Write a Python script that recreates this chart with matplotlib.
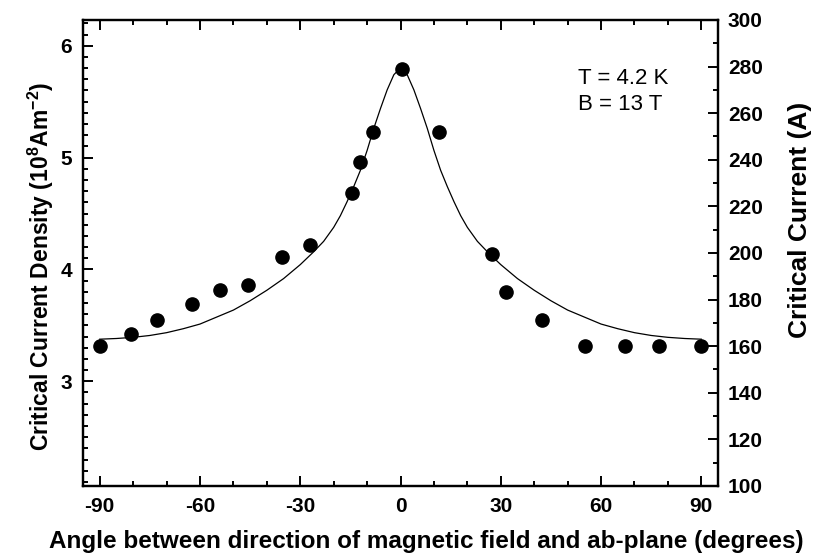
import matplotlib
matplotlib.use("Agg")
import matplotlib.pyplot as plt
from matplotlib.ticker import MultipleLocator

plt.rcParams["font.family"] = ["Liberation Sans", "DejaVu Sans"]
plt.rcParams["font.weight"] = "bold"
plt.rcParams["axes.unicode_minus"] = False
plt.rcParams["mathtext.fontset"] = "custom"
plt.rcParams["mathtext.rm"] = "Liberation Sans:bold"
plt.rcParams["mathtext.bf"] = "Liberation Sans:bold"
plt.rcParams["mathtext.default"] = "bf"

# measured points: angle (deg) vs critical current (A)
angle = [-90, -80.5, -73, -62.5, -54, -45.6, -35.6, -27.2, -14.5, -12.2, -8.1,
         0.4, 11.4, 27.5, 31.6, 42.4, 55.1, 67.2, 77.3, 90]
current = [160.1, 165.1, 171.2, 178.1, 184.1, 186.1, 198.2, 203.4, 225.9, 238.9,
           251.8, 279.0, 251.8, 199.4, 183.1, 171.1, 160.1, 160.1, 160.1, 160.1]

# fitted curve
fit_angle = [-90, -85, -80, -75, -70, -65, -60, -55, -50, -45, -40, -35, -30,
             -26, -23, -20, -18, -16, -14, -12, -10, -8, -6, -4, -2, 0,
             2, 4, 6, 8, 10, 12, 14, 16, 18, 20, 23, 26, 30, 35, 40, 45, 50,
             55, 60, 65, 70, 75, 80, 85, 90]
fit_current = [163.0, 163.3, 163.8, 164.6, 165.8, 167.5, 169.5, 172.5, 175.5,
               179.5, 184.0, 189.0, 195.0, 200.5, 205.0, 211.0, 216.0, 222.0,
               228.5, 235.5, 244.0, 253.5, 262.0, 270.0, 276.5, 279.5,
               276.5, 270.0, 262.0, 253.5, 244.0, 235.5, 228.5, 222.0, 216.0,
               211.0, 205.0, 200.5, 195.0, 189.0, 184.0, 179.5, 175.5, 172.5,
               169.5, 167.5, 165.8, 164.6, 163.8, 163.3, 163.0]

x_ticks = [-90, -60, -30, 0, 30, 60, 90]
jc_ticks = [3, 4, 5, 6]

fig = plt.figure(figsize=(8.13, 5.57), dpi=100)
ax = fig.add_axes([0.1021, 0.1275, 0.7811, 0.8366])
ax2 = ax.twinx()

ax2.plot(fit_angle, fit_current, color="black", lw=0.9)
ax2.plot(angle, current, "o", color="black", ms=9.5)

ax.set_xlim(-95, 95)
ax.set_ylim(2.064, 6.23)
ax2.set_ylim(100, 300)

ax.set_xticks(x_ticks)
ax.xaxis.set_minor_locator(MultipleLocator(10))
ax.set_yticks(jc_ticks)
ax.yaxis.set_minor_locator(MultipleLocator(0.1))
ax2.yaxis.set_major_locator(MultipleLocator(20))
ax2.yaxis.set_minor_locator(MultipleLocator(10))

for a in (ax, ax2):
    for s in a.spines.values():
        s.set_linewidth(1.6)
ax.tick_params(which="both", direction="in", top=True, right=False, width=1.4,
               labelsize=15, pad=8)
ax.tick_params(which="major", length=7)
ax.tick_params(which="minor", length=3.5)
ax2.tick_params(which="both", direction="in", width=1.4, labelsize=15, pad=7)
ax2.tick_params(which="major", length=7)
ax2.tick_params(which="minor", length=3.5)

ax.set_xlabel("Angle between direction of magnetic field and ab-plane (degrees)",
              fontsize=17.5, fontweight="bold")
ax.xaxis.set_label_coords(0.541, -0.094)
ax.set_ylabel("Critical Current Density (10$^{8}$Am$^{-2}$)",
              fontsize=16.5, fontweight="bold")
ax.yaxis.set_label_coords(-0.0425, 0.472)
ax2.set_ylabel("Critical Current (A)", fontsize=19, fontweight="bold")
ax2.yaxis.set_label_coords(1.110, 0.571)

ax.text(0.7795, 0.8755, "T = 4.2 K", transform=ax.transAxes,
        fontsize=16, fontweight="normal", va="center", ha="left")
ax.text(0.7795, 0.8197, "B = 13 T", transform=ax.transAxes,
        fontsize=16, fontweight="normal", va="center", ha="left")

fig.savefig("out.png", dpi=100)
